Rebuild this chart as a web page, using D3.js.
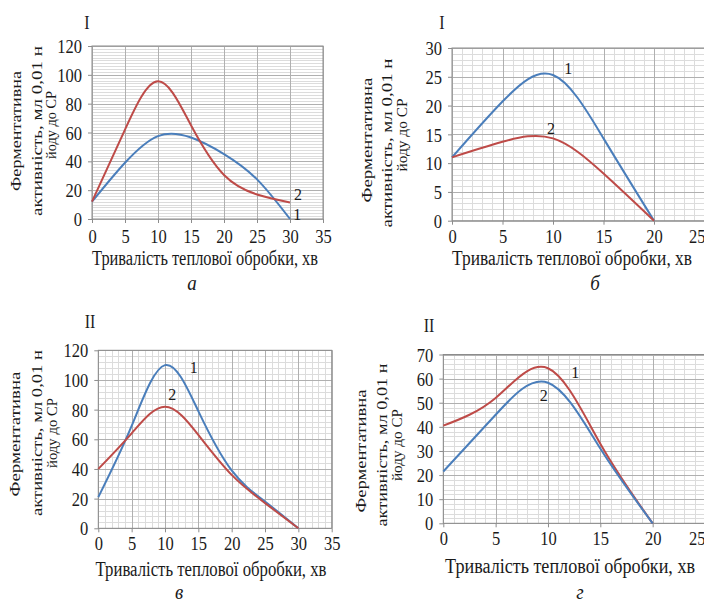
<!DOCTYPE html>
<html>
<head>
<meta charset="utf-8">
<script src="https://cdn.jsdelivr.net/npm/d3@7"></script>
<style>
  body { margin: 0; background: #fff; }
</style>
</head>
<body>
<svg id="chart"></svg>
<script>
// values (time, min -> activity)
var timeA = [0, 5, 10, 15, 20, 25, 30];
var activityA1 = [12, 39, 57.5, 56.5, 45, 27.5, 0];
var activityA2 = [12, 62, 95.5, 65, 30.5, 17, 11.5];

var timeB = [0, 5, 10, 15, 20];
var activityB1 = [11, 20.7, 25.3, 14.3, 0];
var activityB2 = [11, 13.7, 14.3, 8.2, 0];

var timeV = [0, 5, 10, 15, 20, 25, 30];
var activityV1 = [21, 69, 110, 79, 39, 18, 0];
var activityV2 = [40, 64, 82, 63, 36, 17, 0];

var timeG = [0, 5, 10, 15, 20];
var activityG1 = [40.5, 52, 64.3, 33, 0];
var activityG2 = [21.5, 45, 58.3, 31, 0];

var xTicks35 = [0, 5, 10, 15, 20, 25, 30, 35];
var xTicks25 = [0, 5, 10, 15, 20, 25];
var yTicks120 = [0, 20, 40, 60, 80, 100, 120];
var yTicks30 = [0, 5, 10, 15, 20, 25, 30];
var yTicks70 = [0, 10, 20, 30, 40, 50, 60, 70];

var yTitleLines = ['Ферментативна', 'активність, мл 0,01 н', 'йоду до СР'];
var xTitle = 'Тривалість теплової обробки, хв';
var romans = ['I', 'I', 'II', 'II'];
var captions = ['а', 'б', 'в', 'г'];
var seriesNames = ['1', '2'];

var blue = '#4a7ebb', red = '#be4b48';
var serif = '"Liberation Serif", "Times New Roman", "DejaVu Serif", serif';
var W = 704, H = 604;

// layout of each panel
var panels = [
  { xr: [92, 323], yr: [219, 46], xMax: 35, yMax: 120, xTicks: xTicks35, yTicks: yTicks120,
    xMinor: 0, yMinor: 2, time: timeA, series: [activityA1, activityA2], colors: [blue, red],
    tags: [[31.1, 3.6], [31.2, 17.6]], tickY: 236.5, xt: [205, 258, 226],
    ytx: [16, 37, 51], yty: [131, 131, 125], ytl: [120, 170, 68], roman: [87, 22], cap: [192, 282] },
  { xr: [452, 704.5], yr: [220.7, 48], xMax: 25, yMax: 30, xTicks: xTicks25, yTicks: yTicks30,
    xMinor: 1, yMinor: 1, time: timeB, series: [activityB1, activityB2], colors: [blue, red],
    tags: [[11.5, 26.5], [9.8, 16.1]], tickY: 236.5, xt: [572, 258, 240],
    ytx: [367, 387, 402], yty: [140, 143, 135], ytl: [125, 169, 73], roman: [442, 22], cap: [595, 282] },
  { xr: [98.3, 331.7], yr: [528.3, 350.3], xMax: 35, yMax: 120, xTicks: xTicks35, yTicks: yTicks120,
    xMinor: 1, yMinor: 4, time: timeV, series: [activityV1, activityV2], colors: [blue, red],
    tags: [[14.3, 109], [11.1, 90.6]], tickY: 543.5, xt: [211, 568.5, 231],
    ytx: [15, 37, 52], yty: [434, 433, 433], ytl: [125, 166, 70], roman: [90, 321], cap: [179, 591] },
  { xr: [443.3, 705], yr: [523.3, 354.5], xMax: 25, yMax: 70, xTicks: xTicks25, yTicks: yTicks70,
    xMinor: 1, yMinor: 2, time: timeG, series: [activityG1, activityG2], colors: [red, blue],
    tags: [[12.6, 62.8], [9.6, 53.2]], tickY: 538.5, xt: [570, 565.5, 250],
    ytx: [361, 382, 397], yty: [451, 445, 445], ytl: [123, 163, 72], roman: [429, 325], cap: [580, 591] }
];

var svg = d3.select('#chart')
    .attr('width', W).attr('height', H)
    .style('font-family', serif);

function stretched(g, x, y, str, size, k) {
  return g.append('text')
    .attr('transform', 'translate(' + x + ',' + y + ') scale(1,' + k + ')')
    .attr('dy', '0.35em')
    .attr('text-anchor', 'middle')
    .style('font-family', serif)
    .style('font-size', size + 'px')
    .style('fill', '#1a1a1a')
    .text(str);
}

function hlines(g, p, y, values, color) {
  g.append('g').selectAll('line')
    .data(values)
    .enter().append('line')
      .attr('x1', p.xr[0]).attr('x2', p.xr[1])
      .attr('y1', function(d){ return Math.round(y(d)) + 0.5; })
      .attr('y2', function(d){ return Math.round(y(d)) + 0.5; })
      .attr('stroke', color);
}

function vlines(g, p, x, values, color) {
  g.append('g').selectAll('line')
    .data(values)
    .enter().append('line')
      .attr('y1', p.yr[0]).attr('y2', p.yr[1])
      .attr('x1', function(d){ return Math.round(x(d)) + 0.5; })
      .attr('x2', function(d){ return Math.round(x(d)) + 0.5; })
      .attr('stroke', color);
}

panels.forEach(function(p, i) {
  var x = d3.scaleLinear().domain([0, p.xMax]).range(p.xr),
      y = d3.scaleLinear().domain([0, p.yMax]).range(p.yr),
      g = svg.append('g');

  // grid: minor first, then major
  if (p.yMinor) hlines(g, p, y, d3.range(0, p.yMax + 0.001, p.yMinor), '#dcdcdc');
  if (p.xMinor) vlines(g, p, x, d3.range(0, p.xMax + 0.001, p.xMinor), '#dcdcdc');
  hlines(g, p, y, p.yTicks, '#b0b0b0');
  vlines(g, p, x, p.xTicks, '#b0b0b0');

  g.append('rect')
    .attr('x', p.xr[0]).attr('y', p.yr[1])
    .attr('width', p.xr[1] - p.xr[0]).attr('height', p.yr[0] - p.yr[1])
    .attr('fill', 'none').attr('stroke', '#8c8c8c');

  // axes
  var ax = g.append('g')
    .attr('transform', 'translate(' + p.xr[0] + ',0)')
    .call(d3.axisLeft(y).tickValues(p.yTicks).tickSize(4).tickPadding(6));
  ax.attr('font-family', null);
  ax.select('.domain').remove();
  ax.selectAll('line').attr('stroke', '#8c8c8c');
  ax.selectAll('text')
    .attr('dy', '0.35em')
    .attr('transform', 'scale(1,1.15)')
    .style('font-family', serif).style('font-size', '16.5px').style('fill', '#1a1a1a');

  var bx = g.append('g')
    .attr('transform', 'translate(0,' + p.yr[0] + ')')
    .call(d3.axisBottom(x).tickValues(p.xTicks).tickSize(4));
  bx.attr('font-family', null);
  bx.select('.domain').remove();
  bx.selectAll('line').attr('stroke', '#8c8c8c');
  bx.selectAll('text')
    .attr('y', (p.tickY - p.yr[0]) / 1.15)
    .attr('dy', '0.35em')
    .attr('transform', 'scale(1,1.15)')
    .style('font-family', serif).style('font-size', '16.5px').style('fill', '#1a1a1a');
  // the last label sits on the picture's right edge: keep it just inside
  bx.selectAll('text')
    .filter(function(d){ return x(d) + 9 > W; })
    .attr('text-anchor', 'end')
    .attr('x', function(d){ return W + 1 - x(d); });

  // curves
  var line = d3.line()
    .x(function(d){ return x(d[0]); })
    .y(function(d){ return y(d[1]); })
    .curve(d3.curveNatural);

  p.series.forEach(function(vals, j) {
    g.append('path')
      .datum(p.time.map(function(t, k){ return [t, vals[k]]; }))
      .attr('d', line)
      .attr('fill', 'none')
      .attr('stroke', p.colors[j])
      .attr('stroke-width', 2);
    stretched(g, x(p.tags[j][0]), y(p.tags[j][1]), seriesNames[j], 16, 1.1);
  });

  // titles
  stretched(g, p.xt[0], p.xt[1], xTitle, 16, 1.25)
    .attr('textLength', p.xt[2]).attr('lengthAdjust', 'spacingAndGlyphs');

  yTitleLines.forEach(function(s, k) {
    g.append('text')
      .attr('transform', 'translate(' + p.ytx[k] + ',' + p.yty[k] + ') rotate(-90)')
      .attr('text-anchor', 'middle')
      .attr('dy', '0.35em')
      .attr('textLength', p.ytl[k]).attr('lengthAdjust', 'spacingAndGlyphs')
      .style('font-family', serif)
      .style('font-size', '14px')
      .style('fill', '#1a1a1a')
      .text(s);
  });

  stretched(g, p.roman[0], p.roman[1], romans[i], 16, 1.2);
  stretched(g, p.cap[0], p.cap[1], captions[i], 19, 1.15).style('font-style', 'italic');
});
</script>
</body>
</html>
